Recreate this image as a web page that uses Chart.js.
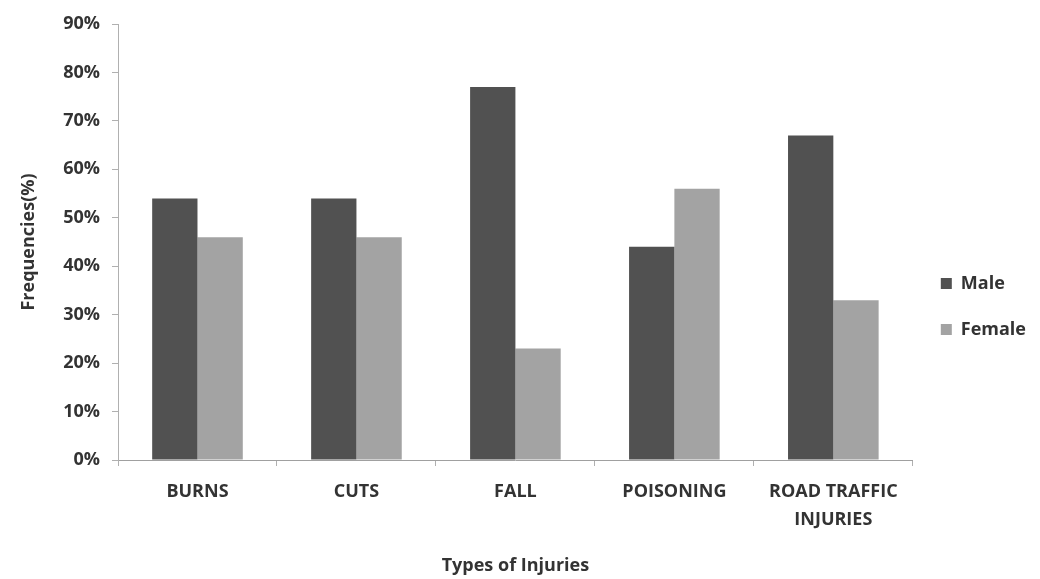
<!DOCTYPE html>
<html>
<head>
<meta charset="utf-8">
<script src="https://cdn.jsdelivr.net/npm/chart.js@4"></script>
<style>
  html, body { margin: 0; padding: 0; background: #fff; }
  #box { width: 1040px; height: 579px; position: relative; }
</style>
</head>
<body>
<div id="box"><canvas id="chart"></canvas></div>
<script>
/* chart values */
var categories = ["BURNS", "CUTS", "FALL", "POISONING", ["ROAD TRAFFIC", "INJURIES"]];
var maleValues = [54, 54, 77, 44, 67];
var femaleValues = [46, 46, 23, 56, 33];
var yTicks = [0, 10, 20, 30, 40, 50, 60, 70, 80, 90];

var labelFont = { family: "'Open Sans', 'DejaVu Sans', sans-serif", size: 18, weight: "bold" };

var barChartData = {
    labels: categories,
    datasets: [{
        label: "Male",
        backgroundColor: "#515151",
        data: maleValues
    }, {
        label: "Female",
        backgroundColor: "#a3a3a3",
        data: femaleValues
    }]
};

window.onload = function() {
    var ctx = document.getElementById("chart").getContext("2d");
    window.theChart = new Chart(ctx, {
        type: "bar",
        data: barChartData,
        options: {
            responsive: true,
            maintainAspectRatio: false,
            animation: false,
            layout: { padding: { left: 14, right: 4, top: 24, bottom: 2 } },
            datasets: {
                bar: { categoryPercentage: 0.57, barPercentage: 1.0 }
            },
            plugins: {
                legend: {
                    position: "right",
                    title: { display: true, text: "", font: { size: 10 }, padding: 0 },
                    labels: {
                        color: "#333",
                        font: labelFont,
                        boxWidth: 11,
                        boxHeight: 11,
                        padding: 28
                    }
                },
                tooltip: { enabled: false }
            },
            scales: {
                x: {
                    afterFit: function(scale) { scale.height = 117; },
                    grid: {
                        display: true,
                        drawOnChartArea: false,
                        drawTicks: true,
                        tickLength: 6,
                        color: "#b0b0b0"
                    },
                    border: { color: "#a0a0a0", width: 1 },
                    ticks: {
                        color: "#333",
                        font: Object.assign({}, labelFont, { lineHeight: 1.55 }),
                        padding: 12,
                        maxRotation: 0
                    },
                    title: {
                        display: true,
                        text: "Types of Injuries",
                        color: "#333",
                        font: labelFont,
                        padding: { top: 10, bottom: 0 }
                    }
                },
                y: {
                    min: 0,
                    max: 90,
                    afterFit: function(scale) { scale.width = 104; },
                    afterBuildTicks: function(scale) {
                        scale.ticks = yTicks.map(function(v) { return { value: v }; });
                    },
                    grid: {
                        display: true,
                        drawOnChartArea: false,
                        drawTicks: true,
                        tickLength: 6,
                        color: "#b0b0b0"
                    },
                    border: { color: "#b0b0b0", width: 1 },
                    ticks: {
                        color: "#333",
                        font: labelFont,
                        padding: 12,
                        callback: function(v) { return v + "%"; }
                    },
                    title: {
                        display: true,
                        text: "Frequencies(%)",
                        color: "#333",
                        font: labelFont,
                        padding: { top: 4, bottom: 8 }
                    }
                }
            }
        }
    });
};
</script>
</body>
</html>
